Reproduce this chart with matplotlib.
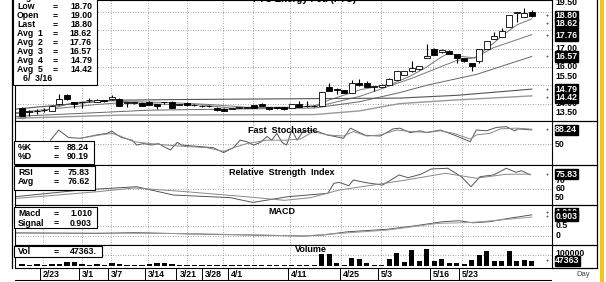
import numpy as np
import matplotlib
matplotlib.use("Agg")
import matplotlib.pyplot as plt
from matplotlib.transforms import blended_transform_factory as blend

plt.rcParams["font.family"] = ["Liberation Sans", "DejaVu Sans"]

# ---- price data (one entry per trading day) ----
opens = [13.75, 13.55, 13.58, 13.64, 13.60, 13.96, 14.45, 14.07, 14.06, 14.18,
         14.11, 14.19, 14.23, 14.27, 14.04, 14.05, 14.05, 14.11, 13.96, 14.06,
         14.11, 13.95, 14.05, 13.92, 13.87, 13.88, 13.78, 13.73, 13.72, 13.76,
         13.78, 13.91, 14.00, 13.82, 13.82, 13.82, 13.78, 14.00, 13.86, 13.87,
         13.87, 14.90, 14.81, 14.72, 14.60, 15.14, 15.12, 14.92, 14.92, 15.04,
         15.31, 15.58, 15.76, 15.86, 16.49, 16.99, 16.80, 16.88, 16.71, 16.49,
         16.22, 16.31, 16.98, 17.52, 17.63, 18.20, 18.95, 18.74, 19.00]
highs = [13.80, 13.65, 13.72, 13.75, 13.90, 14.50, 14.50, 14.10, 14.10, 14.28,
         14.24, 14.22, 14.45, 14.30, 14.08, 14.10, 14.08, 14.14, 13.98, 14.10,
         14.14, 14.00, 14.08, 13.96, 13.92, 13.92, 13.82, 13.75, 13.78, 13.82,
         13.82, 13.93, 14.02, 13.84, 13.84, 13.84, 13.98, 14.14, 14.14, 13.92,
         14.65, 15.10, 14.84, 14.74, 15.26, 15.35, 15.22, 14.96, 15.06, 15.37,
         15.78, 15.78, 16.34, 16.05, 17.26, 17.02, 16.96, 16.90, 16.73, 16.51,
         16.24, 17.00, 17.41, 17.90, 18.11, 18.85, 18.98, 19.20, 19.10]
lows = [13.33, 13.35, 13.45, 13.55, 13.58, 13.94, 14.20, 13.78, 13.74, 14.10,
        14.08, 14.10, 14.20, 13.85, 13.80, 14.00, 13.85, 13.92, 13.69, 13.98,
        13.76, 13.90, 13.89, 13.88, 13.84, 13.84, 13.62, 13.58, 13.68, 13.74,
        13.74, 13.76, 13.85, 13.67, 13.72, 13.67, 13.76, 13.80, 13.84, 13.84,
        13.85, 14.66, 14.50, 14.58, 14.58, 14.97, 14.88, 14.68, 14.90, 15.02,
        15.29, 15.56, 15.74, 15.84, 16.47, 16.65, 16.78, 16.69, 16.22, 16.29,
        15.80, 16.20, 16.96, 17.50, 17.61, 18.18, 18.47, 18.72, 18.70]
closes = [13.35, 13.58, 13.62, 13.66, 13.87, 14.23, 14.23, 13.96, 14.08, 14.20,
          14.19, 14.12, 14.38, 13.87, 14.06, 14.06, 13.87, 13.94, 13.87, 14.07,
          13.78, 13.96, 13.91, 13.93, 13.88, 13.87, 13.65, 13.60, 13.73, 13.79,
          13.78, 13.78, 13.87, 13.69, 13.74, 13.69, 13.96, 13.82, 13.88, 13.88,
          14.63, 14.68, 14.72, 14.60, 15.14, 14.99, 14.90, 14.93, 15.04, 15.35,
          15.76, 15.76, 15.95, 16.03, 16.61, 16.67, 16.94, 16.71, 16.49, 16.31,
          16.07, 16.98, 17.39, 17.70, 17.98, 18.83, 18.96, 18.96, 18.80]
volume = [15000, 5000, 15000, 5000, 15000, 20000, 35000, 35000, 20000, 10000,
          15000, 5000, 25000, 15000, 10000, 5000, 5000, 20000, 30000, 25000,
          20000, 5000, 5000, 5000, 5000, 10000, 5000, 10000, 5000, 10000,
          5000, 10000, 5000, 5000, 10000, 5000, 10000, 5000,
          5000, 5000, 106000, 106000, 27000, 12000, 76000, 67000, 27000, 12000,
          12000, 67000, 118000, 36000, 143000, 42000, 152000, 42000, 61000, 27000,
          27000, 15000, 52000, 103000, 133000, 42000, 45000, 133000, 42000, 52000,
          47363]

# moving averages as (day, value) knots
avg1_x = [-0.9, 3, 5, 7, 10, 13, 16, 20, 24, 28, 32, 36, 39, 41, 45.1, 49.5, 51.8, 53.8, 55.8, 56.9, 58.4, 60.4, 62.4, 64.2, 66, 68]
avg1_y = [13.45, 13.6, 13.85, 14.05, 14.15, 14.15, 14.0, 13.95, 13.92, 13.75, 13.8, 13.8, 13.87, 14.2, 14.75, 15.1, 15.5, 15.95, 16.5, 16.76, 16.58, 16.49, 17.12, 17.75, 18.29, 18.62]
avg2_x = [-0.9, 5, 10, 15, 20, 25, 30, 35, 40, 45.1, 52.2, 55.8, 58, 60.4, 62.9, 68]
avg2_y = [13.5, 13.75, 13.95, 14.1, 14.05, 13.95, 13.8, 13.78, 13.9, 14.4, 15.41, 16.0, 16.35, 16.5, 17.05, 17.76]
avg3_x = [-0.9, 17, 39, 45, 50.4, 54, 60.7, 68]
avg3_y = [13.3, 13.64, 13.76, 14.1, 14.6, 15.0, 15.6, 16.57]
avg4_x = [-0.9, 12, 20.5, 39, 50.4, 58, 68]
avg4_y = [13.7, 14.18, 14.22, 14.27, 14.3, 14.45, 14.79]
avg5_x = [-0.9, 13, 39, 45, 50.4, 58, 68]
avg5_y = [13.2, 13.37, 13.4, 13.6, 14.0, 14.2, 14.42]

stk_x = [3.8, 4.9, 6.2, 7.8, 10, 11.3, 12, 12.7, 13.3, 14.7, 15.3, 16.2, 17.3, 18.2, 18.9, 19.8, 20.7,
         21.3, 23.8, 25.5, 26.9, 28.2, 29.1, 30, 30.9, 31.8, 32.7, 33.3, 34, 34.7, 35.3, 36, 36.7,
         37.5, 38.9, 40.7, 42.9, 43.8, 45.8, 47.8, 49.5, 50.4, 51.8, 53.1, 54, 55.8, 57.6, 59.8,
         60.6, 62, 63.3, 64.6, 65.7, 66.2, 68]
stk_y = [61, 88, 68, 66, 75, 79, 85, 75, 68, 61, 48, 52, 48, 52, 44, 35, 55,
         48, 44, 41, 28, 41, 61, 57, 48, 55, 71, 61, 79, 55, 48, 88, 61,
         84, 88, 75, 66, 93, 74, 72, 91, 93, 81, 86, 81, 88, 75, 57,
         88, 86, 95, 97, 86, 91, 88.24]
std_x = [7.8, 10.4, 12, 13.1, 14.9, 17.1, 19.3, 22, 24.7, 26.9, 28.2, 30, 32.7, 34.9, 37.1,
         38.9, 40.7, 42.9, 44.2, 46, 47.8, 50, 51.8, 54, 55.8, 57.6, 59.8, 60.6, 62.4, 63.8, 66, 68]
std_y = [66, 75, 79, 72, 57, 52, 48, 44, 41, 31, 41, 52, 61, 61, 64,
         84, 75, 72, 84, 72, 75, 88, 84, 82, 86, 79, 64, 75, 79, 91, 93, 90.19]
rsi_x = [-1, 7.8, 15.3, 20.2, 27.8, 30.8, 35.4, 38.1, 40.8, 41.6, 42.3, 43.6, 44.2, 45.9, 48.1,
         50.3, 51.5, 53.2, 54.6, 56.8, 58.6, 59.9, 61.1, 62.9, 64.6, 65.9, 66.6, 67.8]
rsi_y = [51, 58.6, 62.4, 53, 50, 44.6, 51, 53, 54.9, 66.2, 67.4, 63.5, 70, 67, 64.3,
         75.7, 72.6, 76.5, 82.5, 83.3, 73.8, 62.4, 73.8, 75.7, 83.3, 78.7, 80.6, 75.83]
rsa_x = [-1, 10, 15, 22, 30, 35, 38.5, 42.3, 46.8, 51.2, 56.5, 60.6, 64.6, 67.8]
rsa_y = [49, 56.7, 61, 56.7, 51, 47, 50, 58.6, 64.3, 70, 77.6, 72, 76.5, 76.62]
macd_x = [-1, 10, 15, 25, 37.6, 40.3, 43.4, 48.7, 52.3, 56.1, 58.3, 60.1, 62.3, 64.9, 68]
macd_y = [0.15, 0.12, 0.16, 0.08, 0.0, 0.05, 0.2, 0.32, 0.48, 0.68, 0.73, 0.63, 0.68, 0.84, 1.01]
sig_x = [-1, 10, 20, 30, 37.6, 43.4, 48.7, 55.4, 60.1, 64.9, 68]
sig_y = [0.14, 0.14, 0.12, 0.06, 0.0, 0.15, 0.28, 0.6, 0.65, 0.8, 0.903]

# date axis: weekly marks (day position) and labels
date_pos = [2.8, 8.0, 11.9, 16.8, 21.0, 24.4, 27.9, 35.9, 42.8, 47.9, 54.8, 58.7]
date_lab = ["2/23", "3/1", "3/7", "3/14", "3/21", "3/28", "4/1", "4/11", "4/25", "5/3", "5/16", "5/23"]
grid_pos = [2.8, 8.0, 11.9, 16.8, 22.0, 26.8, 30.8, 35.7, 42.5, 47.9, 54.8, 58.7]

W, H = 606, 282
fig = plt.figure(figsize=(W / 100, H / 100), dpi=100)
X0, X1 = 15, 552
XLIM = (-0.93, 70.7)


def panel(top, bot):
    ax = fig.add_axes([X0 / W, 1 - bot / H, (X1 - X0) / W, (bot - top) / H])
    ax.set_xlim(*XLIM)
    ax.set_xticks([])
    ax.set_yticks([])
    for s in ax.spines.values():
        s.set_linewidth(0.8)
    for g in grid_pos:
        ax.axvline(g, color="#888888", lw=0.6, ls=(0, (1, 2)), zorder=0)
    return ax


def rlab(ax, y, s, boxed=False):
    tr = blend(ax.transAxes, ax.transData)
    if boxed:
        ax.text(1.006, y, s, transform=tr, fontsize=6.3, fontweight="bold", color="white",
                va="center", ha="left", clip_on=False,
                bbox=dict(boxstyle="square,pad=0.08", fc="black", ec="black"))
        ax.text(0.992, y, "+", transform=tr, fontsize=4, va="center", ha="center", clip_on=False)
    else:
        ax.text(1.006, y, s, transform=tr, fontsize=6.3, fontweight="bold", va="center",
                ha="left", clip_on=False)


def infobox(x0, y0, lines, w, h):
    # positions given in figure pixels from the top-left corner
    fig.patches.append(plt.Rectangle((x0 / W, 1 - (y0 + h) / H), w / W, h / H,
                                     transform=fig.transFigure, fc="white", ec="black",
                                     lw=0.8, zorder=5))
    for (ty, lab, val) in lines:
        fig.text((x0 + 4) / W, 1 - ty / H, lab, fontsize=6.3, fontweight="bold", va="center", zorder=6)
        fig.text((x0 + 40) / W, 1 - ty / H, "=", fontsize=6.3, fontweight="bold", va="center", zorder=6)
        fig.text((x0 + w - 5) / W, 1 - ty / H, val, fontsize=6.3, fontweight="bold",
                 va="center", ha="right", zorder=6)


# ---- price panel ----
ax = panel(0, 121)
ax.set_ylim(13.05, 19.65)
for gy in [14, 15, 16, 17, 18, 19]:
    ax.axhline(gy, color="#888888", lw=0.6, ls=(0, (1, 2)), zorder=0)
idx = np.arange(len(closes))
o = np.array(opens); c = np.array(closes); hi = np.array(highs); lo = np.array(lows)
ax.vlines(idx, lo, hi, color="black", lw=0.8, zorder=3)
up = c >= o
body_lo = np.minimum(o, c); body_h = np.maximum(np.abs(c - o), 0.02)
ax.bar(idx[up], body_h[up], bottom=body_lo[up], width=0.8, color="white", edgecolor="black", lw=0.6, zorder=4)
ax.bar(idx[~up], body_h[~up], bottom=body_lo[~up], width=0.8, color="black", edgecolor="black", lw=0.6, zorder=4)
for xs, ys, col, lw in [(avg1_x, avg1_y, "#777777", 0.7), (avg2_x, avg2_y, "#777777", 0.7),
                        (avg3_x, avg3_y, "#666666", 0.7), (avg4_x, avg4_y, "#555555", 0.8),
                        (avg5_x, avg5_y, "#999999", 1.0)]:
    ax.plot(xs, ys, color=col, lw=lw, zorder=2)
for t in [19.5, 17.0, 16.0, 15.5, 14.0, 13.5]:
    rlab(ax, t, f"{t:.2f}")
for v, yl in [(18.80, 18.78), (18.62, 18.35), (17.76, 17.72), (16.57, 16.57), (14.79, 14.79), (14.42, 14.31)]:
    rlab(ax, yl, f"{v:.2f}", boxed=True)
ax.text(-0.6, 13.15, "Gapt", fontsize=3, color="#555555", zorder=6)
fig.text(305 / W, 1 + 1 / H, "FTC Energy Fed (FTC)", fontsize=7, fontweight="bold", ha="center", va="center")

infobox(13, -12, [(-3, "High", "19.10"), (6.5, "Low", "18.70"), (15.5, "Open", "19.00"),
                  (24.5, "Last", "18.80"), (33.5, "Avg  1", "18.62"), (42.5, "Avg  2", "17.76"),
                  (51.5, "Avg  3", "16.57"), (60.5, "Avg  4", "14.79"), (69.5, "Avg  5", "14.42")],
        84, 97)
fig.text(23 / W, 1 - 78.5 / H, "6/  3/16", fontsize=6.3, fontweight="bold", va="center", zorder=6)

# ---- fast stochastic ----
ax = panel(121, 165)
ax.set_ylim(-5, 112)
ax.axhline(50, color="#888888", lw=0.6, ls=(0, (1, 2)), zorder=0)
ax.plot(stk_x, stk_y, color="#555555", lw=0.7)
ax.plot(std_x, std_y, color="#888888", lw=0.7)
rlab(ax, 50, "50")
rlab(ax, 88.24, "88.24", boxed=True)
ax.text(34.8, 88, "Fast  Stochastic", fontsize=6.5, fontweight="bold", ha="center", va="center")
infobox(14, 141, [(147.5, "%K", "88.24"), (156.5, "%D", "90.19")], 80, 23)

# ---- RSI ----
ax = panel(165, 205)
ax.set_ylim(41.7, 87)
ax.axhline(60, color="#888888", lw=0.6, ls=(0, (1, 2)), zorder=0)
ax.plot(rsi_x, rsi_y, color="#555555", lw=0.7)
ax.plot(rsa_x, rsa_y, color="#888888", lw=0.7)
for t in [70, 60, 50]:
    rlab(ax, t, str(t))
rlab(ax, 76.5, "75.83", boxed=True)
ax.text(34.6, 78.7, "Relative  Strength  Index", fontsize=6.5, fontweight="bold", ha="center", va="center")
infobox(14, 166, [(172.5, "RSI", "75.83"), (181.5, "Avg", "76.62")], 81, 24)

# ---- MACD ----
ax = panel(205, 245)
ax.set_ylim(-0.43, 1.48)
for t in [0, 0.5]:
    ax.axhline(t, color="#888888", lw=0.6, ls=(0, (1, 2)), zorder=0)
ax.plot(macd_x, macd_y, color="#555555", lw=0.7)
ax.plot(sig_x, sig_y, color="#999999", lw=0.7)
rlab(ax, 0.5, "0.5")
rlab(ax, 0, "0")
rlab(ax, 1.1, "1.010", boxed=True)
rlab(ax, 0.95, "0.903", boxed=True)
ax.text(34.7, 1.16, "MACD", fontsize=6.5, fontweight="bold", ha="center", va="center")
infobox(14, 207, [(214, "Macd", "1.010"), (223, "Signal", "0.903")], 83, 21)

# ---- volume ----
ax = panel(245, 268)
ax.set_ylim(-18000, 191000)
ax.axhline(100000, color="#888888", lw=0.6, ls=(0, (1, 2)), zorder=0)
ax.bar(idx, volume, width=0.7, color="black", zorder=3)
rlab(ax, 115000, "100000")
rlab(ax, 47363, "47363", boxed=True)
ax.text(38.6, 150000, "Volume", fontsize=6.5, fontweight="bold", ha="center", va="center")
infobox(14, 246, [(251.5, "Vol", "47363.")], 88, 11)

# ---- date strip ----
ax = fig.add_axes([X0 / W, 1 - 281 / H, (X1 - X0) / W, 13 / H])
ax.set_xlim(*XLIM)
ax.set_ylim(0, 1)
ax.axis("off")
ax.axhline(0.03, color="black", lw=1.5)
for p, lab in zip(date_pos, date_lab):
    ax.plot([p - 0.4, p - 0.4], [0, 1], color="black", lw=0.7)
    ax.text(p, 0.5, lab, fontsize=6.3, fontweight="bold", va="center", ha="left")
fig.text(583 / W, 1 - 274 / H, "Day", fontsize=5.5, color="#444444", ha="center", va="center")

# outer frame and yellow edge
for xx in [12, 597]:
    fig.add_artist(plt.Line2D([xx / W, xx / W], [1 - 268 / H, 1], color="black", lw=0.9))
for yy in [121, 165, 205, 245, 268]:
    fig.add_artist(plt.Line2D([X1 / W, 597 / W], [1 - yy / H, 1 - yy / H], color="black", lw=0.9))
fig.patches.append(plt.Rectangle((600 / W, 0), 4 / W, 1, transform=fig.transFigure,
                                 fc="#f5c518", ec="none"))

fig.savefig("out.png", dpi=100)
